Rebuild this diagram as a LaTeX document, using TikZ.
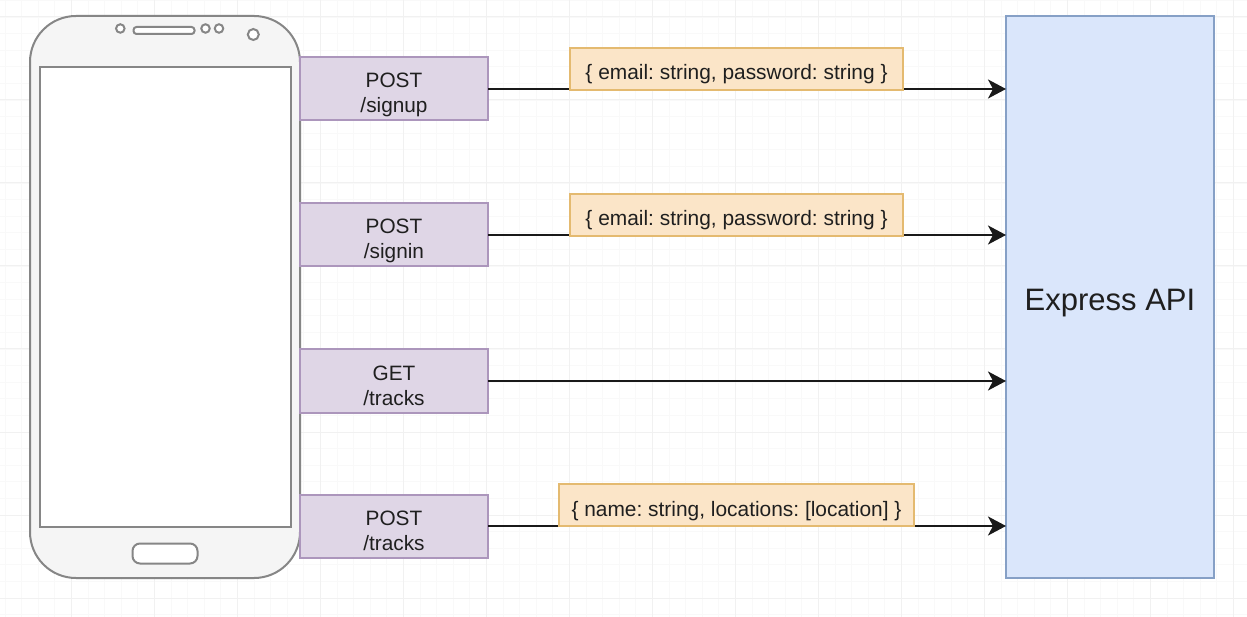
\documentclass[tikz,border=0pt]{standalone}
\usepackage{fontspec}
\setmainfont{Liberation Sans}
\frenchspacing
\usetikzlibrary{arrows.meta}
\definecolor{gridmajor}{HTML}{F1F1F1}
\definecolor{gridminor}{HTML}{F9F9F9}
\definecolor{phoneline}{HTML}{868686}
\definecolor{phonefill}{HTML}{F5F5F5}
\definecolor{routefill}{HTML}{DFD6E6}
\definecolor{routeline}{HTML}{AC96BC}
\definecolor{bodyfill}{HTML}{FBE5C8}
\definecolor{bodyline}{HTML}{E4BA70}
\definecolor{apifill}{HTML}{DAE6FB}
\definecolor{apiline}{HTML}{86A0C6}
\definecolor{inkcol}{HTML}{1F1F1F}
\tikzset{
  x=1pt,y=-1pt,
  box/.style={draw,inner sep=0pt,outer sep=0pt,align=center,text=inkcol},
  route/.style={box,fill=routefill,draw=routeline,line width=2pt,minimum width=188pt,minimum height=63pt,font=\fontsize{20.8}{25}\selectfont,text height=50pt,text depth=2pt},
  payload/.style={box,fill=bodyfill,draw=bodyline,line width=2pt,minimum height=42pt,font=\fontsize{20.9}{22}\selectfont,text height=25pt,text depth=3pt},
  api/.style={box,fill=apifill,draw=apiline,line width=2pt,minimum width=208pt,minimum height=562pt,font=\fontsize{31}{34}\selectfont,text height=34pt,text depth=6pt},
  phonepart/.style={box,draw=phoneline,fill=phonefill,line width=2pt},
  flow/.style={draw=black!90,line width=2pt,-{Stealth[length=18pt,width=19pt,inset=5pt]}},
}
\begin{document}
\begin{tikzpicture}
\useasboundingbox (0,0) rectangle (1247,617);
\fill[white] (0,0) rectangle (1247,617);
\foreach \i in {0,...,75} \draw[gridminor,line width=0.8pt] ({4.9+16.6*\i},0) -- ({4.9+16.6*\i},617);
\foreach \i in {0,...,37} \draw[gridminor,line width=0.8pt] (0,{0.4+16.6*\i}) -- (1247,{0.4+16.6*\i});
\foreach \i in {0,...,14} \draw[gridmajor,line width=1pt] ({71.7+83*\i},0) -- ({71.7+83*\i},617);
\foreach \i in {0,...,7} \draw[gridmajor,line width=1pt] (0,{17+83*\i}) -- (1247,{17+83*\i});

% phone
\node[phonepart,rounded corners=46pt,minimum width=270pt,minimum height=562pt] (phone) at (165,297) {};
\node[phonepart,fill=white,minimum width=250.5pt,minimum height=460pt] (screen) at (165.5,297) {};
\node[phonepart,fill=white,rounded corners=7.5pt,minimum width=65pt,minimum height=20pt] (home) at (165,553.5) {};
\node[phonepart,fill=white,rounded corners=3pt,minimum width=61pt,minimum height=7pt] (speaker) at (164,30.5) {};
\node[phonepart,fill=white,circle,minimum size=8.5pt] (camL) at (120.3,28.5) {};
\node[phonepart,fill=white,circle,minimum size=8.5pt] (camA) at (205.5,28.5) {};
\node[phonepart,fill=white,circle,minimum size=8.5pt] (camB) at (219,28.5) {};
\node[phonepart,fill=white,circle,minimum size=11pt] (camC) at (253.3,34.5) {};

% API
\node[api] (apibox) at (1110,297) {Express API};

% routes
\node[route] (r1) at (394,89) {POST\\/signup};
\node[route] (r2) at (394,235) {POST\\/signin};
\node[route] (r3) at (394,381) {GET\\/tracks};
\node[route] (r4) at (394,526) {POST\\/tracks};

% connectors
\draw[flow] (r1.east) -- (r1.east -| apibox.west);
\draw[flow] (r2.east) -- (r2.east -| apibox.west);
\draw[flow] (r3.east) -- (r3.east -| apibox.west);
\draw[flow] (r4.east) -- (r4.east -| apibox.west);

% payloads
\node[payload,minimum width=333pt] (p1) at (736.5,69) {\{ email: string, password: string \}};
\node[payload,minimum width=333pt] (p2) at (736.5,215) {\{ email: string, password: string \}};
\node[payload,minimum width=355pt] (p4) at (736.5,505) {\{ name: string, locations: [location] \}};
\end{tikzpicture}
\end{document}
